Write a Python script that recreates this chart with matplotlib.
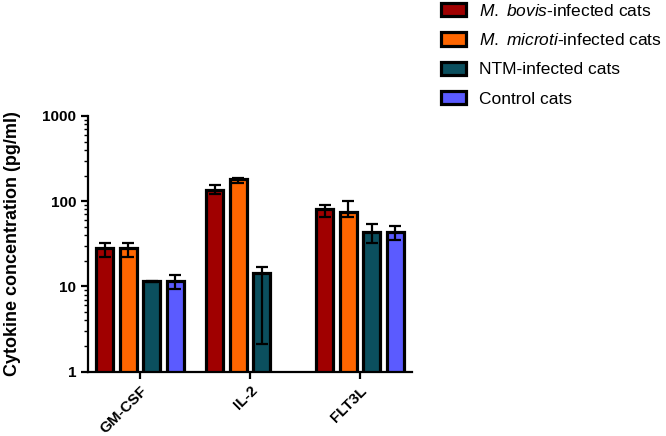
import matplotlib.pyplot as plt
import numpy as np

plt.rcParams['font.family'] = ['Liberation Sans', 'DejaVu Sans']
plt.rcParams['mathtext.fontset'] = 'custom'
plt.rcParams['mathtext.it'] = 'Liberation Sans:italic'
plt.rcParams['mathtext.rm'] = 'Liberation Sans'

cytokines = ['GM-CSF', 'IL-2', 'FLT3L']
groups = ['$\\it{M.}$ $\\it{bovis}$-infected cats', '$\\it{M.}$ $\\it{microti}$-infected cats',
          'NTM-infected cats', 'Control cats']
colors = ['#A00000', '#FF6600', '#0B4F5E', '#5B5BFF']

# mean values per group (GM-CSF, IL-2, FLT3L); nan = not shown
bovis = [28, 135, 82]
microti = [28, 180, 75]
ntm = [11.5, 14.5, 44]
control = [11.7, np.nan, 44]

# error bar ends (low, high)
bovis_lo = [22, 120, 65]
bovis_hi = [32, 155, 91]
microti_lo = [22, 163, 65]
microti_hi = [32, 186, 101]
ntm_lo = [11.3, 2.1, 32]
ntm_hi = [11.7, 17, 54]
control_lo = [9.3, np.nan, 35.5]
control_hi = [13.8, np.nan, 51]

means = [bovis, microti, ntm, control]
lows = [bovis_lo, microti_lo, ntm_lo, control_lo]
highs = [bovis_hi, microti_hi, ntm_hi, control_hi]

fig = plt.figure(figsize=(6.66, 4.36), dpi=100)
ax = fig.add_axes([0.1321, 0.1475, 0.4865, 0.5865])

x = np.arange(len(cytokines))
step = 0.214
width = 0.155
for i in range(4):
    m = np.array(means[i], dtype=float)
    lo = np.array(lows[i], dtype=float)
    hi = np.array(highs[i], dtype=float)
    pos = x + (i - 1.5) * step
    ok = ~np.isnan(m)
    ax.bar(pos[ok], m[ok], width, bottom=0, color=colors[i], edgecolor='black',
           linewidth=2.3, label=groups[i], zorder=2)
    ax.errorbar(pos[ok], m[ok], yerr=[m[ok] - lo[ok], hi[ok] - m[ok]], fmt='none',
                ecolor='black', elinewidth=1.6, capsize=4, capthick=1.6, zorder=3)

ax.set_yscale('log')
ax.set_ylim(1, 1000)
ax.set_xlim(-0.473, 2.473)
ax.set_yticks([1, 10, 100, 1000])
ax.set_yticklabels(['1', '10', '100', '1000'], fontweight='bold', fontsize=11)
ax.set_xticks(x)
ax.set_xticklabels(cytokines, rotation=45, ha='right', rotation_mode='anchor',
                   fontweight='bold', fontsize=11)
ax.set_ylabel('Cytokine concentration (pg/ml)', fontsize=13, fontweight='bold',
              labelpad=15)
ax.spines['top'].set_visible(False)
ax.spines['right'].set_visible(False)
ax.spines['left'].set_linewidth(1.6)
ax.spines['bottom'].set_linewidth(1.6)
ax.tick_params(axis='both', which='major', width=1.6, length=5)
ax.tick_params(axis='y', which='minor', width=1, length=3)

ax.legend(loc='upper left', bbox_to_anchor=(0.638, 1.03), bbox_transform=fig.transFigure,
          frameon=False, fontsize=12.5, handlelength=1.45, handleheight=0.8,
          labelspacing=0.78, handletextpad=0.75)

fig.savefig('out.png', dpi=100)
